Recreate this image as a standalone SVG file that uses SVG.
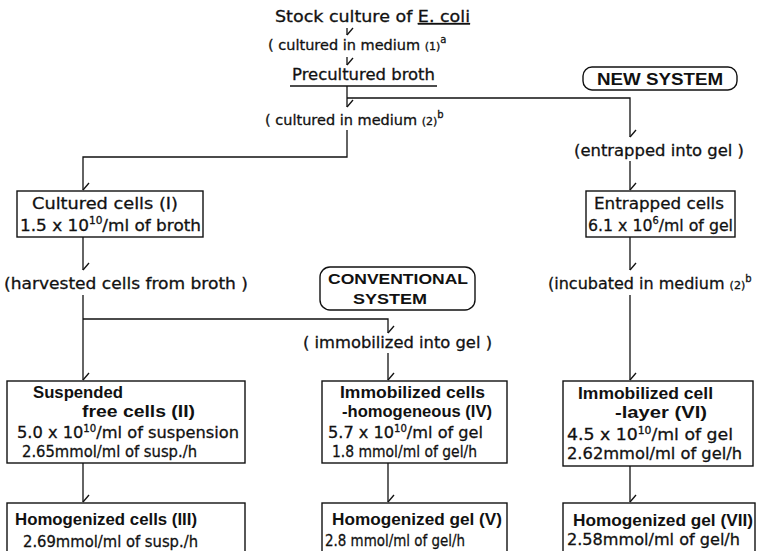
<svg xmlns="http://www.w3.org/2000/svg" width="761" height="551" viewBox="0 0 761 551">
<defs>
<style>
.t{font-family:"DejaVu Sans","Liberation Sans",sans-serif;font-size:16px;fill:#111;stroke:#111;stroke-width:0.3}
.b{font-family:"Liberation Sans",Arial,sans-serif;font-weight:bold;font-size:16px;fill:#111}
.p{font-size:14.5px}
.sm{font-size:11px}
.sup{font-size:10px}
.box{fill:#fff;stroke:#111;stroke-width:1.4}
.ln{fill:none;stroke:#111;stroke-width:1.3}
.c{fill:none;stroke:#111;stroke-width:1.3;marker-end:url(#tick)}
</style>
<marker id="tick" viewBox="-10 -10 20 20" markerWidth="20" markerHeight="20" refX="0" refY="0" orient="auto" markerUnits="userSpaceOnUse" overflow="visible">
<path d="M0,0 L-7,-6" fill="none" stroke="#111" stroke-width="1.3"/>
</marker>
</defs>
<rect width="761" height="551" fill="#fff"/>

<g id="connectors">
<path class="c" d="M347,28 V35"/>
<path class="c" d="M347,57 V65"/>
<path class="c" d="M347,86 V107"/>
<path class="c" d="M347,98 H630 V137"/>
<path class="c" d="M347,130 V157 H83 V190"/>
<path class="c" d="M630,161 V190"/>
<path class="c" d="M83,237 V270"/>
<path class="c" d="M83,295 V380"/>
<path class="c" d="M83,319 H388 V333"/>
<path class="c" d="M388,353 V380"/>
<path class="c" d="M630,237 V270"/>
<path class="c" d="M630,295 V380"/>
<path class="c" d="M83,463 V502"/>
<path class="c" d="M388,463 V502"/>
<path class="c" d="M630,466 V502"/>
</g>

<g id="stock">
<text class="t" x="275" y="22" textLength="195" lengthAdjust="spacingAndGlyphs">Stock culture of <tspan text-decoration="underline">E. coli</tspan></text>
</g>
<g id="step-medium1">
<text class="t p" x="268" y="50">( cultured in medium <tspan class="sm">(1)</tspan><tspan class="sup" dy="-7">a</tspan></text>
</g>
<g id="precultured">
<text class="t" x="292" y="80" textLength="143" lengthAdjust="spacingAndGlyphs">Precultured broth</text>
<line class="ln" x1="290" y1="86" x2="437" y2="86"/>
</g>
<g id="new-system">
<rect class="box" x="583" y="67" width="154" height="23" rx="9"/>
<text class="b" x="660" y="84.5" text-anchor="middle" textLength="126" lengthAdjust="spacingAndGlyphs">NEW SYSTEM</text>
</g>
<g id="step-medium2">
<text class="t p" x="265" y="125">( cultured in medium <tspan class="sm">(2)</tspan><tspan class="sup" dy="-7">b</tspan></text>
</g>
<g id="step-entrapped">
<text class="t" x="574" y="156" textLength="170" lengthAdjust="spacingAndGlyphs">(entrapped into gel )</text>
</g>
<g id="cultured-cells">
<rect class="box" x="17" y="191" width="186" height="46"/>
<text class="t" x="32" y="209" textLength="146" lengthAdjust="spacingAndGlyphs">Cultured cells (I)</text>
<text class="t" x="20" y="231" textLength="181" lengthAdjust="spacingAndGlyphs">1.5 x 10<tspan class="sup" dy="-7">10</tspan><tspan dy="7">/ml of broth</tspan></text>
</g>
<g id="entrapped-cells">
<rect class="box" x="586" y="191" width="149" height="46"/>
<text class="t" x="594" y="209" textLength="130" lengthAdjust="spacingAndGlyphs">Entrapped cells</text>
<text class="t" x="588" y="231" textLength="145" lengthAdjust="spacingAndGlyphs">6.1 x 10<tspan class="sup" dy="-7">6</tspan><tspan dy="7">/ml of gel</tspan></text>
</g>
<g id="step-harvested">
<text class="t" x="4" y="289" textLength="244" lengthAdjust="spacingAndGlyphs">(harvested cells from broth )</text>
</g>
<g id="conventional-system">
<rect class="box" x="320" y="267" width="155" height="43" rx="10"/>
<text class="b" x="398" y="284" text-anchor="middle" textLength="140" lengthAdjust="spacingAndGlyphs" style="font-size:15.5px">CONVENTIONAL</text>
<text class="b" x="390" y="304" text-anchor="middle" textLength="74" lengthAdjust="spacingAndGlyphs" style="font-size:15.5px">SYSTEM</text>
</g>
<g id="step-incubated">
<text class="t" x="548" y="289">(incubated in medium <tspan class="sm">(2)</tspan><tspan class="sup" dy="-7">b</tspan></text>
</g>
<g id="step-immobilized">
<text class="t" x="303" y="348" textLength="189" lengthAdjust="spacingAndGlyphs">( immobilized into gel )</text>
</g>
<g id="suspended-cells">
<rect class="box" x="7" y="381" width="238" height="82"/>
<text class="b" x="33" y="398" textLength="90" lengthAdjust="spacingAndGlyphs">Suspended</text>
<text class="b" x="82" y="417" textLength="113" lengthAdjust="spacingAndGlyphs">free cells (II)</text>
<text class="t" x="17" y="438" textLength="222" lengthAdjust="spacingAndGlyphs">5.0 x 10<tspan class="sup" dy="-6">10</tspan><tspan dy="6">/ml of suspension</tspan></text>
<text class="t" x="22" y="457" textLength="175" lengthAdjust="spacingAndGlyphs">2.65mmol/ml of susp./h</text>
</g>
<g id="immobilized-homogeneous">
<rect class="box" x="322" y="381" width="185" height="82"/>
<text class="b" x="340" y="398" textLength="145" lengthAdjust="spacingAndGlyphs">Immobilized cells</text>
<text class="b" x="342" y="417" textLength="150" lengthAdjust="spacingAndGlyphs">-homogeneous (IV)</text>
<text class="t" x="328" y="438" textLength="155" lengthAdjust="spacingAndGlyphs">5.7 x 10<tspan class="sup" dy="-6">10</tspan><tspan dy="6">/ml of gel</tspan></text>
<text class="t" x="332" y="457" textLength="145" lengthAdjust="spacingAndGlyphs">1.8 mmol/ml of gel/h</text>
</g>
<g id="immobilized-layer">
<rect class="box" x="563" y="381" width="190" height="85"/>
<text class="b" x="578" y="399" textLength="135" lengthAdjust="spacingAndGlyphs">Immobilized cell</text>
<text class="b" x="615" y="418" textLength="92" lengthAdjust="spacingAndGlyphs">-layer (VI)</text>
<text class="t" x="567" y="440" textLength="166" lengthAdjust="spacingAndGlyphs">4.5 x 10<tspan class="sup" dy="-6">10</tspan><tspan dy="6">/ml of gel</tspan></text>
<text class="t" x="567" y="459" textLength="175" lengthAdjust="spacingAndGlyphs">2.62mmol/ml of gel/h</text>
</g>
<g id="homogenized-cells">
<rect class="box" x="7" y="503" width="238" height="60"/>
<text class="b" x="15" y="525" textLength="182" lengthAdjust="spacingAndGlyphs">Homogenized cells (III)</text>
<text class="t" x="23" y="547" textLength="175" lengthAdjust="spacingAndGlyphs">2.69mmol/ml of susp./h</text>
</g>
<g id="homogenized-gel-v">
<rect class="box" x="322" y="503" width="185" height="60"/>
<text class="b" x="332" y="525" textLength="170" lengthAdjust="spacingAndGlyphs">Homogenized gel (V)</text>
<text class="t" x="325" y="546" textLength="140" lengthAdjust="spacingAndGlyphs">2.8 mmol/ml of gel/h</text>
</g>
<g id="homogenized-gel-vii">
<rect class="box" x="563" y="503" width="192" height="60"/>
<text class="b" x="573" y="526" textLength="180" lengthAdjust="spacingAndGlyphs">Homogenized gel (VII)</text>
<text class="t" x="567" y="545" textLength="173" lengthAdjust="spacingAndGlyphs">2.58mmol/ml of gel/h</text>
</g>
</svg>
